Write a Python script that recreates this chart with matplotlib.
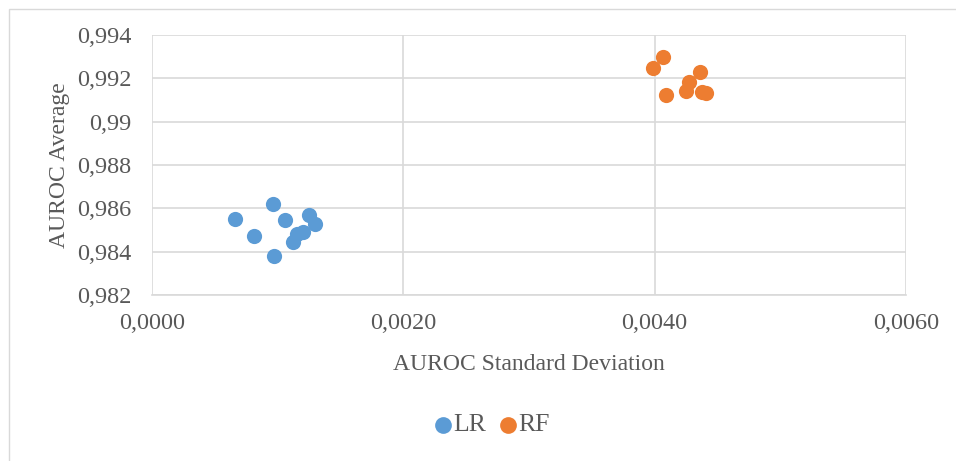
import matplotlib.pyplot as plt
from matplotlib.patches import Rectangle
from matplotlib.ticker import FuncFormatter

# AUROC std dev / average for each model
lr_std = [0.00066, 0.00081, 0.00096, 0.00106, 0.00097, 0.00125, 0.00130, 0.00120, 0.00115, 0.00112]
lr_avg = [0.98551, 0.98474, 0.98620, 0.98546, 0.98382, 0.98569, 0.98528, 0.98492, 0.98480, 0.98446]
rf_std = [0.00407, 0.00399, 0.00436, 0.00409, 0.00427, 0.00425, 0.00438, 0.00441]
rf_avg = [0.99297, 0.99246, 0.99228, 0.99123, 0.99182, 0.99143, 0.99136, 0.99133]

x_ticks = [0.0, 0.002, 0.004, 0.006]
y_ticks = [0.982, 0.984, 0.986, 0.988, 0.990, 0.992, 0.994]

plt.rcParams['font.family'] = ['Liberation Serif', 'DejaVu Serif']
grey = '#595959'

fig = plt.figure(figsize=(9.56, 4.61), dpi=100)
ax = fig.add_axes([152/956, 1-295/461, (906-152)/956, (295-35)/461])

ax.scatter(lr_std, lr_avg, s=120, color='#5B9BD5', label='LR', zorder=3, linewidths=0)
ax.scatter(rf_std, rf_avg, s=120, color='#ED7D31', label='RF', zorder=3, linewidths=0)

ax.set_xlim(0, 0.006)
ax.set_ylim(0.982, 0.994)
ax.set_xticks(x_ticks)
ax.set_yticks(y_ticks)
ax.xaxis.set_major_formatter(FuncFormatter(lambda v, p: ('%.4f' % v).replace('.', ',')))
ax.yaxis.set_major_formatter(FuncFormatter(lambda v, p: ('%g' % round(v, 3)).replace('.', ',')))
ax.grid(True, color='#d9d9d9', linewidth=1.2, zorder=0)
ax.set_axisbelow(True)
for s in ['top', 'right', 'left']:
    ax.spines[s].set_visible(False)
ax.spines['bottom'].set_color('#d9d9d9')
ax.spines['bottom'].set_linewidth(1.2)
ax.tick_params(length=0, labelsize=17.5, colors=grey)
ax.tick_params(axis='y', pad=15)
ax.tick_params(axis='x', pad=13)

ax.set_xlabel('AUROC Standard Deviation', fontsize=17, color=grey, labelpad=14)
ax.set_ylabel('AUROC Average', fontsize=17, color=grey, labelpad=5)

fig.legend(loc='center', bbox_to_anchor=(0.513, 1-425/461), ncol=2, frameon=False,
           fontsize=18.5, handlelength=0.9, handletextpad=-0.05, columnspacing=0.4,
           markerscale=1.1, labelcolor=grey)

# outer chart frame
fig.patches.append(Rectangle((9/956, -0.01), 1.0, 1-9/461 + 0.01, transform=fig.transFigure,
                             fill=False, edgecolor='#d9d9d9', linewidth=1))

fig.savefig('out.png', dpi=100)
